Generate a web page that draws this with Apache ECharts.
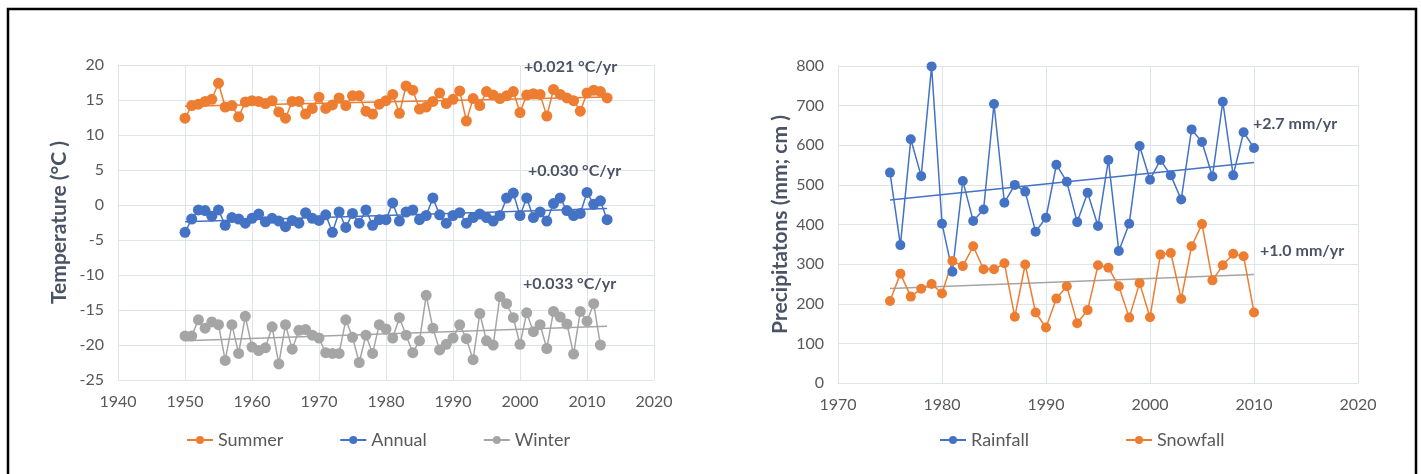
<!DOCTYPE html>
<html>
<head>
<meta charset="utf-8">
<style>
  html, body { margin: 0; padding: 0; background: #ffffff; }
  #chart { width: 1421px; height: 474px; }
</style>
<script src="https://cdn.jsdelivr.net/npm/echarts@6/dist/echarts.min.js"></script>
</head>
<body>
<div id="chart"></div>
<script>
// ---- Temperature series (°C), one value per year ----
const summerStart = 1950;
const summer = [
  12.4, 14.2, 14.4, 14.8, 15.1, 17.4, 14.0, 14.2, 12.6, 14.7,
  14.9, 14.8, 14.5, 14.9, 13.3, 12.4, 14.8, 14.8, 13.0, 13.8,
  15.4, 13.8, 14.3, 15.3, 14.2, 15.6, 15.6, 13.4, 13.0, 14.4,
  14.9, 15.8, 13.1, 17.0, 16.4, 13.7, 14.0, 14.8, 16.0, 14.5,
  15.1, 16.3, 12.0, 15.2, 14.2, 16.2, 15.7, 15.2, 15.6, 16.2,
  13.2, 15.7, 15.9, 15.8, 12.7, 16.5, 15.8, 15.3, 14.9, 13.4,
  16.0, 16.4, 16.2, 15.3
];
const annualStart = 1950;
const annual = [
  -3.9, -2.0, -0.7, -0.8, -1.6, -0.7, -2.9, -1.8, -2.0, -2.6,
  -1.9, -1.3, -2.4, -1.9, -2.3, -3.1, -2.2, -2.6, -1.1, -1.9,
  -2.2, -1.4, -3.9, -1.0, -3.2, -1.2, -2.6, -0.7, -2.9, -2.1,
  -2.1, 0.3, -2.3, -1.0, -0.7, -2.1, -1.5, 1.0, -1.4, -2.6,
  -1.5, -1.1, -2.6, -1.8, -1.3, -1.8, -2.3, -1.5, 1.0, 1.7,
  -1.5, 1.0, -1.8, -1.0, -2.3, 0.2, 1.0, -0.8, -1.5, -1.2,
  1.8, 0.1, 0.6, -2.1
];
const winterStart = 1950;
const winter = [
  -18.7, -18.7, -16.4, -17.6, -16.7, -17.1, -22.2, -17.1, -21.2, -15.9,
  -20.3, -20.8, -20.4, -17.4, -22.7, -17.1, -20.6, -17.9, -17.8, -18.6,
  -19.0, -21.1, -21.2, -21.2, -16.4, -18.9, -22.5, -18.6, -21.2, -17.1,
  -17.7, -19.0, -16.1, -18.6, -21.1, -19.4, -12.9, -17.6, -20.7, -19.9,
  -19.0, -17.1, -19.1, -22.1, -15.5, -19.4, -20.0, -13.1, -14.1, -16.1,
  -19.9, -15.4, -18.1, -17.1, -20.5, -15.2, -16.0, -17.0, -21.3, -15.2,
  -16.6, -14.1, -20.0
];

// ---- Precipitation series (rain mm; snow cm) ----
const precipStart = 1975;
const rainfall = [
  531, 348, 615, 522, 799, 402, 281, 510, 409, 438,
  704, 455, 500, 483, 382, 417, 551, 508, 406, 480,
  396, 563, 333, 402, 598, 513, 563, 524, 463, 640,
  608, 521, 710, 524, 633, 593
];
const snowfall = [
  207, 276, 218, 238, 250, 226, 308, 295, 345, 287,
  287, 302, 167, 299, 178, 140, 213, 244, 151, 184,
  297, 291, 244, 165, 252, 166, 324, 328, 212, 345,
  401, 259, 297, 326, 320, 178
];

// ---- Trend slopes (per year) and their labels ----
const trendSlopes = { summer: 0.021, annual: 0.030, winter: 0.033, rainfall: 2.7, snowfall: 1.0 };
const trendLabels = ['+0.021 °C/yr', '+0.030 °C/yr', '+0.033 °C/yr', '+2.7 mm/yr', '+1.0 mm/yr'];
const tempTrendSpan = [1950, 2013];
const precipTrendSpan = [1975, 2010];

const ORANGE = '#ED7D31', BLUE = '#4472C4', GRAY = '#A5A5A5';
const GRID = '#dfe3ea', TICK = '#595959', TITLE = '#4a5466';
const FONT = 'Lato, "Liberation Sans", sans-serif';

function pairs(start, values) {
  return values.map((v, i) => [start + i, v]);
}
// line with a fixed slope through the centroid of the points
function trend(points, slope, span) {
  const n = points.length;
  const mx = points.reduce((s, p) => s + p[0], 0) / n;
  const my = points.reduce((s, p) => s + p[1], 0) / n;
  const b = my - slope * mx;
  return span.map(x => [x, b + slope * x]);
}

const sSummer = pairs(summerStart, summer);
const sAnnual = pairs(annualStart, annual);
const sWinter = pairs(winterStart, winter);
const sRain = pairs(precipStart, rainfall);
const sSnow = pairs(precipStart, snowfall);

function dataSeries(name, data, color, gi, size) {
  return {
    name, type: 'line', data, xAxisIndex: gi, yAxisIndex: gi,
    symbol: 'circle', symbolSize: size,
    itemStyle: { color },
    lineStyle: { color, width: 1.5 },
    emphasis: { disabled: true }, animation: false, z: 3
  };
}
function trendSeries(data, color, gi) {
  return {
    type: 'line', data, xAxisIndex: gi, yAxisIndex: gi,
    symbol: 'none', lineStyle: { color, width: 1.5 },
    emphasis: { disabled: true }, animation: false, z: 2, silent: true
  };
}

function axisCommon(extra) {
  return Object.assign({
    axisTick: { show: false },
    axisLabel: { color: TICK, fontFamily: FONT, fontSize: 16, margin: 14, formatter: v => String(v) },
    axisLine: { show: true, lineStyle: { color: GRID, width: 1 } },
    splitLine: { show: true, lineStyle: { color: GRID, width: 1 } }
  }, extra);
}

const labelStyle = { fontFamily: FONT, fontSize: 16, fontWeight: 'bold', fill: TITLE };
const legendText = { color: TICK, fontFamily: FONT, fontSize: 18 };

const option = {
  backgroundColor: '#ffffff',
  animation: false,
  grid: [
    { left: 118, top: 65, width: 536, height: 315 },
    { left: 838, top: 66, width: 520, height: 317 }
  ],
  xAxis: [
    axisCommon({ type: 'value', gridIndex: 0, min: 1940, max: 2020, interval: 10 }),
    axisCommon({ type: 'value', gridIndex: 1, min: 1970, max: 2020, interval: 10 })
  ],
  yAxis: [
    axisCommon({
      type: 'value', gridIndex: 0, min: -25, max: 20, interval: 5,
      name: 'Temperature (°C )', nameLocation: 'middle', nameGap: 48,
      nameTextStyle: { color: TITLE, fontFamily: FONT, fontSize: 21, fontWeight: 'bold' }
    }),
    axisCommon({
      type: 'value', gridIndex: 1, min: 0, max: 800, interval: 100,
      name: 'Precipitatons (mm; cm )', nameLocation: 'middle', nameGap: 47,
      nameTextStyle: { color: TITLE, fontFamily: FONT, fontSize: 21, fontWeight: 'bold' }
    })
  ],
  legend: [
    {
      data: ['Summer', 'Annual', 'Winter'], left: 181, top: 426,
      itemWidth: 26, itemHeight: 10, itemGap: 56,
      textStyle: legendText
    },
    {
      data: ['Rainfall', 'Snowfall'], left: 934, top: 426,
      itemWidth: 26, itemHeight: 10, itemGap: 96,
      textStyle: legendText
    }
  ],
  series: [
    dataSeries('Summer', sSummer, ORANGE, 0, 11),
    dataSeries('Annual', sAnnual, BLUE, 0, 11),
    dataSeries('Winter', sWinter, GRAY, 0, 11),
    trendSeries(trend(sSummer, trendSlopes.summer, tempTrendSpan), ORANGE, 0),
    trendSeries(trend(sAnnual, trendSlopes.annual, tempTrendSpan), BLUE, 0),
    trendSeries(trend(sWinter, trendSlopes.winter, tempTrendSpan), GRAY, 0),
    dataSeries('Rainfall', sRain, BLUE, 1, 10),
    dataSeries('Snowfall', sSnow, ORANGE, 1, 10),
    trendSeries(trend(sRain, trendSlopes.rainfall, precipTrendSpan), BLUE, 1),
    trendSeries(trend(sSnow, trendSlopes.snowfall, precipTrendSpan), GRAY, 1)
  ],
  graphic: [
    { type: 'rect', silent: true, z: 100, shape: { x: 8, y: 9, width: 1408, height: 480 },
      style: { fill: 'none', stroke: '#000000', lineWidth: 2.5 } },
    { type: 'text', z: 100, left: 524, top: 59, style: Object.assign({ text: trendLabels[0] }, labelStyle) },
    { type: 'text', z: 100, left: 528, top: 163, style: Object.assign({ text: trendLabels[1] }, labelStyle) },
    { type: 'text', z: 100, left: 523, top: 276, style: Object.assign({ text: trendLabels[2] }, labelStyle) },
    { type: 'text', z: 100, left: 1253, top: 116, style: Object.assign({ text: trendLabels[3] }, labelStyle) },
    { type: 'text', z: 100, left: 1260, top: 243, style: Object.assign({ text: trendLabels[4] }, labelStyle) }
  ]
};

const chart = echarts.init(document.getElementById('chart'), null, { renderer: 'canvas' });
chart.setOption(option);
</script>
</body>
</html>
